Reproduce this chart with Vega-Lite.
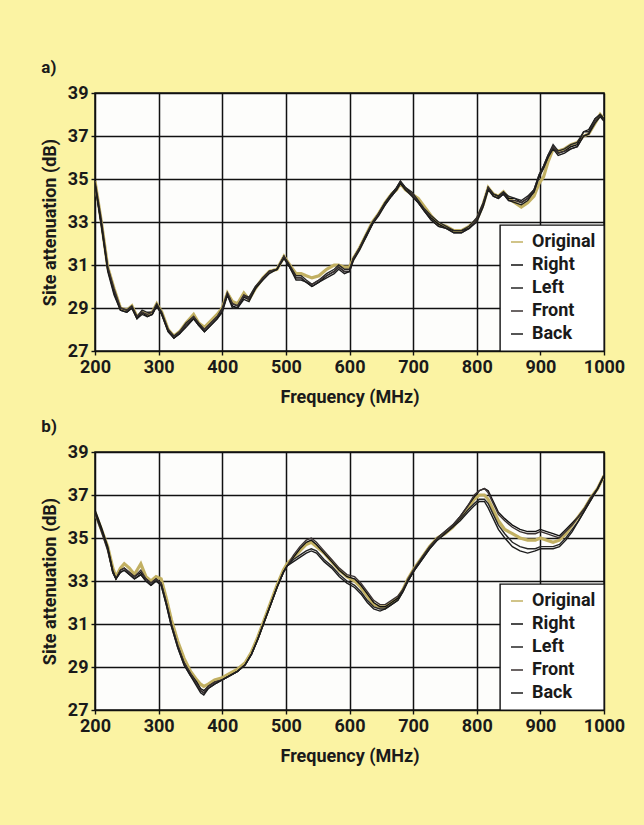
{
  "$schema": "https://vega.github.io/schema/vega-lite/v6.json",
  "background": "#fbf3a3",
  "padding": {"left": 40, "top": 58, "right": 39, "bottom": 60},
  "spacing": 10,
  "config": {
    "font": "Roboto, sans-serif",
    "view": {"stroke": "#111111", "strokeWidth": 1.5, "fill": "#fdfdfb"},
    "axis": {
      "gridColor": "#111111", "gridWidth": 1.5, "gridOpacity": 1,
      "domain": false, "tickColor": "#111111", "tickSize": 4, "tickWidth": 1.4,
      "labelFont": "Roboto, sans-serif", "labelOverlap": false, "labelFlush": false,
      "labelFontSize": 18, "labelFontWeight": "bold", "labelColor": "#1a1a1a", "labelPadding": 3,
      "titleFont": "Roboto, sans-serif",
      "titleFontSize": 18, "titleFontWeight": "bold", "titleColor": "#1a1a1a"
    },
    "legend": {
      "orient": "bottom-right", "offset": 0, "padding": 8, "fillColor": "#ffffff",
      "strokeColor": "#111111", "strokeWidth": 1.4, "cornerRadius": 0,
      "labelFont": "Roboto, sans-serif",
      "labelFontSize": 18, "labelFontWeight": "bold", "labelColor": "#1a1a1a",
      "symbolType": "stroke", "symbolSize": 144, "symbolStrokeWidth": 1.5, "labelOffset": 6, "rowPadding": 5
    },
    "title": {
      "font": "Roboto, sans-serif",
      "fontSize": 17, "fontWeight": "bold", "color": "#1a1a1a", "anchor": "start", "frame": "bounds", "offset": 7
    }
  },
  "datasets": {
    "a": [
      {"f":200,"Original":34.9,"Right":34.8,"Left":34.7,"Front":34.9,"Back":34.8},
      {"f":210,"Original":33.0,"Right":32.8,"Left":32.9,"Front":33.1,"Back":32.9},
      {"f":220,"Original":30.9,"Right":30.8,"Left":30.9,"Front":30.9,"Back":30.7},
      {"f":230,"Original":29.9,"Right":29.7,"Left":29.8,"Front":29.9,"Back":29.6},
      {"f":240,"Original":29.0,"Right":28.9,"Left":29.0,"Front":29.0,"Back":28.9},
      {"f":250,"Original":28.9,"Right":28.8,"Left":28.9,"Front":28.9,"Back":28.8},
      {"f":258,"Original":29.1,"Right":29.0,"Left":29.1,"Front":29.0,"Back":29.0},
      {"f":266,"Original":28.6,"Right":28.5,"Left":28.6,"Front":28.6,"Back":28.5},
      {"f":274,"Original":28.8,"Right":28.8,"Left":28.9,"Front":28.8,"Back":28.7},
      {"f":282,"Original":28.7,"Right":28.6,"Left":28.8,"Front":28.7,"Back":28.6},
      {"f":290,"Original":28.8,"Right":28.7,"Left":28.8,"Front":28.8,"Back":28.7},
      {"f":297,"Original":29.2,"Right":29.1,"Left":29.2,"Front":29.1,"Back":29.1},
      {"f":305,"Original":28.8,"Right":28.7,"Left":28.8,"Front":28.7,"Back":28.7},
      {"f":315,"Original":28.0,"Right":27.9,"Left":28.0,"Front":28.0,"Back":27.9},
      {"f":324,"Original":27.7,"Right":27.6,"Left":27.7,"Front":27.6,"Back":27.6},
      {"f":333,"Original":27.9,"Right":27.8,"Left":27.9,"Front":27.9,"Back":27.8},
      {"f":343,"Original":28.3,"Right":28.2,"Left":28.3,"Front":28.2,"Back":28.1},
      {"f":355,"Original":28.7,"Right":28.5,"Left":28.6,"Front":28.6,"Back":28.5},
      {"f":363,"Original":28.3,"Right":28.2,"Left":28.3,"Front":28.2,"Back":28.2},
      {"f":372,"Original":28.1,"Right":27.9,"Left":28.0,"Front":28.0,"Back":27.9},
      {"f":382,"Original":28.4,"Right":28.2,"Left":28.3,"Front":28.3,"Back":28.2},
      {"f":392,"Original":28.7,"Right":28.5,"Left":28.6,"Front":28.6,"Back":28.5},
      {"f":400,"Original":29.0,"Right":28.9,"Left":29.0,"Front":28.9,"Back":28.8},
      {"f":408,"Original":29.7,"Right":29.6,"Left":29.7,"Front":29.7,"Back":29.6},
      {"f":416,"Original":29.3,"Right":29.1,"Left":29.2,"Front":29.2,"Back":29.0},
      {"f":424,"Original":29.2,"Right":29.0,"Left":29.1,"Front":29.1,"Back":29.0},
      {"f":434,"Original":29.7,"Right":29.5,"Left":29.6,"Front":29.6,"Back":29.4},
      {"f":442,"Original":29.4,"Right":29.4,"Left":29.5,"Front":29.4,"Back":29.3},
      {"f":452,"Original":29.9,"Right":29.9,"Left":30.0,"Front":29.9,"Back":29.9},
      {"f":464,"Original":30.4,"Right":30.4,"Left":30.4,"Front":30.4,"Back":30.3},
      {"f":474,"Original":30.7,"Right":30.7,"Left":30.7,"Front":30.7,"Back":30.6},
      {"f":486,"Original":30.8,"Right":30.8,"Left":30.8,"Front":30.8,"Back":30.8},
      {"f":497,"Original":31.4,"Right":31.4,"Left":31.4,"Front":31.4,"Back":31.3},
      {"f":506,"Original":31.0,"Right":30.9,"Left":31.0,"Front":30.9,"Back":30.9},
      {"f":516,"Original":30.6,"Right":30.4,"Left":30.5,"Front":30.4,"Back":30.3},
      {"f":524,"Original":30.6,"Right":30.4,"Left":30.5,"Front":30.4,"Back":30.3},
      {"f":532,"Original":30.5,"Right":30.2,"Left":30.3,"Front":30.2,"Back":30.2},
      {"f":541,"Original":30.4,"Right":30.0,"Left":30.1,"Front":30.1,"Back":30.0},
      {"f":552,"Original":30.5,"Right":30.2,"Left":30.3,"Front":30.3,"Back":30.2},
      {"f":564,"Original":30.8,"Right":30.5,"Left":30.6,"Front":30.5,"Back":30.4},
      {"f":576,"Original":31.0,"Right":30.7,"Left":30.8,"Front":30.7,"Back":30.6},
      {"f":583,"Original":31.0,"Right":30.9,"Left":31.0,"Front":30.9,"Back":30.8},
      {"f":592,"Original":30.9,"Right":30.7,"Left":30.8,"Front":30.7,"Back":30.6},
      {"f":600,"Original":30.9,"Right":30.7,"Left":30.8,"Front":30.7,"Back":30.7},
      {"f":606,"Original":31.3,"Right":31.3,"Left":31.3,"Front":31.3,"Back":31.2},
      {"f":616,"Original":31.8,"Right":31.8,"Left":31.8,"Front":31.8,"Back":31.7},
      {"f":626,"Original":32.4,"Right":32.4,"Left":32.4,"Front":32.3,"Back":32.3},
      {"f":636,"Original":33.0,"Right":32.9,"Left":33.0,"Front":32.9,"Back":32.9},
      {"f":646,"Original":33.4,"Right":33.4,"Left":33.4,"Front":33.4,"Back":33.3},
      {"f":656,"Original":33.9,"Right":33.9,"Left":33.9,"Front":33.8,"Back":33.8},
      {"f":666,"Original":34.3,"Right":34.3,"Left":34.3,"Front":34.2,"Back":34.2},
      {"f":674,"Original":34.5,"Right":34.6,"Left":34.6,"Front":34.5,"Back":34.5},
      {"f":680,"Original":34.8,"Right":34.9,"Left":34.9,"Front":34.8,"Back":34.8},
      {"f":688,"Original":34.5,"Right":34.6,"Left":34.6,"Front":34.5,"Back":34.5},
      {"f":698,"Original":34.3,"Right":34.3,"Left":34.4,"Front":34.3,"Back":34.2},
      {"f":708,"Original":34.1,"Right":33.9,"Left":34.0,"Front":33.9,"Back":33.9},
      {"f":718,"Original":33.7,"Right":33.5,"Left":33.6,"Front":33.5,"Back":33.5},
      {"f":728,"Original":33.3,"Right":33.2,"Left":33.3,"Front":33.1,"Back":33.1},
      {"f":740,"Original":32.9,"Right":32.9,"Left":33.0,"Front":32.8,"Back":32.8},
      {"f":752,"Original":32.8,"Right":32.7,"Left":32.8,"Front":32.7,"Back":32.7},
      {"f":764,"Original":32.6,"Right":32.6,"Left":32.6,"Front":32.5,"Back":32.5},
      {"f":776,"Original":32.6,"Right":32.6,"Left":32.6,"Front":32.5,"Back":32.5},
      {"f":788,"Original":32.8,"Right":32.7,"Left":32.8,"Front":32.7,"Back":32.7},
      {"f":800,"Original":33.1,"Right":33.1,"Left":33.2,"Front":33.1,"Back":33.0},
      {"f":810,"Original":33.8,"Right":33.8,"Left":33.9,"Front":33.8,"Back":33.7},
      {"f":818,"Original":34.6,"Right":34.6,"Left":34.6,"Front":34.6,"Back":34.5},
      {"f":826,"Original":34.3,"Right":34.3,"Left":34.3,"Front":34.2,"Back":34.2},
      {"f":834,"Original":34.2,"Right":34.2,"Left":34.2,"Front":34.1,"Back":34.1},
      {"f":842,"Original":34.4,"Right":34.4,"Left":34.4,"Front":34.3,"Back":34.3},
      {"f":850,"Original":34.1,"Right":34.1,"Left":34.2,"Front":34.0,"Back":34.0},
      {"f":860,"Original":33.9,"Right":34.1,"Left":34.1,"Front":34.0,"Back":33.9},
      {"f":870,"Original":33.7,"Right":33.9,"Left":34.0,"Front":33.9,"Back":33.8},
      {"f":880,"Original":33.9,"Right":34.1,"Left":34.2,"Front":34.1,"Back":34.0},
      {"f":890,"Original":34.2,"Right":34.5,"Left":34.5,"Front":34.4,"Back":34.4},
      {"f":898,"Original":34.8,"Right":35.2,"Left":35.2,"Front":35.1,"Back":35.1},
      {"f":905,"Original":35.1,"Right":35.6,"Left":35.6,"Front":35.5,"Back":35.5},
      {"f":912,"Original":35.8,"Right":36.1,"Left":36.1,"Front":36.0,"Back":36.0},
      {"f":920,"Original":36.4,"Right":36.5,"Left":36.6,"Front":36.5,"Back":36.4},
      {"f":928,"Original":36.3,"Right":36.2,"Left":36.3,"Front":36.2,"Back":36.1},
      {"f":938,"Original":36.4,"Right":36.3,"Left":36.4,"Front":36.3,"Back":36.2},
      {"f":948,"Original":36.6,"Right":36.5,"Left":36.6,"Front":36.4,"Back":36.4},
      {"f":958,"Original":36.7,"Right":36.6,"Left":36.7,"Front":36.5,"Back":36.5},
      {"f":968,"Original":37.0,"Right":37.2,"Left":37.2,"Front":37.0,"Back":37.0},
      {"f":976,"Original":37.1,"Right":37.3,"Left":37.2,"Front":37.1,"Back":37.1},
      {"f":986,"Original":37.6,"Right":37.8,"Left":37.8,"Front":37.7,"Back":37.6},
      {"f":994,"Original":38.0,"Right":38.0,"Left":38.0,"Front":37.9,"Back":37.9},
      {"f":1000,"Original":37.8,"Right":37.8,"Left":37.8,"Front":37.7,"Back":37.7}
    ],
    "b": [
      {"f":200,"Original":36.2,"Right":36.3,"Left":36.2,"Front":36.1,"Back":36.2},
      {"f":210,"Original":35.4,"Right":35.5,"Left":35.4,"Front":35.3,"Back":35.4},
      {"f":220,"Original":34.6,"Right":34.6,"Left":34.5,"Front":34.4,"Back":34.5},
      {"f":228,"Original":33.6,"Right":33.5,"Left":33.4,"Front":33.4,"Back":33.4},
      {"f":233,"Original":33.2,"Right":33.1,"Left":33.1,"Front":33.1,"Back":33.1},
      {"f":240,"Original":33.6,"Right":33.5,"Left":33.4,"Front":33.5,"Back":33.4},
      {"f":246,"Original":33.8,"Right":33.6,"Left":33.5,"Front":33.6,"Back":33.5},
      {"f":254,"Original":33.6,"Right":33.4,"Left":33.3,"Front":33.4,"Back":33.3},
      {"f":262,"Original":33.3,"Right":33.2,"Left":33.1,"Front":33.2,"Back":33.1},
      {"f":272,"Original":33.8,"Right":33.4,"Left":33.3,"Front":33.5,"Back":33.3},
      {"f":280,"Original":33.2,"Right":33.1,"Left":33.0,"Front":33.1,"Back":33.0},
      {"f":288,"Original":33.0,"Right":32.9,"Left":32.8,"Front":32.9,"Back":32.8},
      {"f":296,"Original":33.2,"Right":33.1,"Left":33.0,"Front":33.1,"Back":33.0},
      {"f":304,"Original":33.1,"Right":32.9,"Left":32.8,"Front":32.9,"Back":32.8},
      {"f":312,"Original":32.2,"Right":32.0,"Left":31.9,"Front":32.0,"Back":31.9},
      {"f":320,"Original":31.2,"Right":31.0,"Left":30.9,"Front":31.0,"Back":30.9},
      {"f":330,"Original":30.2,"Right":30.0,"Left":29.9,"Front":30.0,"Back":29.9},
      {"f":340,"Original":29.4,"Right":29.2,"Left":29.1,"Front":29.2,"Back":29.1},
      {"f":350,"Original":28.8,"Right":28.7,"Left":28.6,"Front":28.7,"Back":28.6},
      {"f":360,"Original":28.4,"Right":28.3,"Left":28.2,"Front":28.2,"Back":28.1},
      {"f":366,"Original":28.2,"Right":28.0,"Left":27.9,"Front":27.9,"Back":27.8},
      {"f":371,"Original":28.1,"Right":27.9,"Left":27.8,"Front":27.8,"Back":27.7},
      {"f":378,"Original":28.2,"Right":28.1,"Left":28.0,"Front":28.1,"Back":28.0},
      {"f":388,"Original":28.4,"Right":28.3,"Left":28.2,"Front":28.3,"Back":28.2},
      {"f":400,"Original":28.5,"Right":28.4,"Left":28.4,"Front":28.4,"Back":28.4},
      {"f":412,"Original":28.7,"Right":28.6,"Left":28.6,"Front":28.6,"Back":28.6},
      {"f":424,"Original":28.9,"Right":28.8,"Left":28.8,"Front":28.8,"Back":28.8},
      {"f":436,"Original":29.2,"Right":29.1,"Left":29.1,"Front":29.1,"Back":29.1},
      {"f":446,"Original":29.7,"Right":29.6,"Left":29.6,"Front":29.6,"Back":29.6},
      {"f":456,"Original":30.4,"Right":30.3,"Left":30.3,"Front":30.3,"Back":30.3},
      {"f":466,"Original":31.2,"Right":31.1,"Left":31.1,"Front":31.1,"Back":31.1},
      {"f":476,"Original":32.0,"Right":31.9,"Left":31.9,"Front":31.9,"Back":31.9},
      {"f":486,"Original":32.8,"Right":32.7,"Left":32.7,"Front":32.7,"Back":32.7},
      {"f":496,"Original":33.5,"Right":33.4,"Left":33.4,"Front":33.4,"Back":33.4},
      {"f":502,"Original":33.8,"Right":33.7,"Left":33.7,"Front":33.7,"Back":33.7},
      {"f":512,"Original":34.1,"Right":34.1,"Left":34.0,"Front":34.2,"Back":33.9},
      {"f":522,"Original":34.4,"Right":34.5,"Left":34.2,"Front":34.6,"Back":34.1},
      {"f":532,"Original":34.7,"Right":34.8,"Left":34.4,"Front":34.9,"Back":34.3},
      {"f":540,"Original":34.8,"Right":34.9,"Left":34.5,"Front":35.0,"Back":34.4},
      {"f":548,"Original":34.6,"Right":34.7,"Left":34.4,"Front":34.8,"Back":34.3},
      {"f":560,"Original":34.3,"Right":34.3,"Left":34.0,"Front":34.4,"Back":33.9},
      {"f":572,"Original":33.9,"Right":33.9,"Left":33.7,"Front":34.0,"Back":33.6},
      {"f":584,"Original":33.5,"Right":33.5,"Left":33.3,"Front":33.6,"Back":33.2},
      {"f":596,"Original":33.2,"Right":33.2,"Left":33.0,"Front":33.3,"Back":32.9},
      {"f":608,"Original":33.0,"Right":33.1,"Left":32.8,"Front":33.2,"Back":32.7},
      {"f":618,"Original":32.7,"Right":32.8,"Left":32.5,"Front":32.9,"Back":32.4},
      {"f":628,"Original":32.3,"Right":32.4,"Left":32.1,"Front":32.5,"Back":32.0},
      {"f":638,"Original":31.9,"Right":32.0,"Left":31.8,"Front":32.1,"Back":31.7},
      {"f":648,"Original":31.8,"Right":31.8,"Left":31.7,"Front":31.9,"Back":31.6},
      {"f":656,"Original":31.8,"Right":31.8,"Left":31.7,"Front":31.9,"Back":31.7},
      {"f":666,"Original":32.0,"Right":32.0,"Left":31.9,"Front":32.1,"Back":31.9},
      {"f":676,"Original":32.2,"Right":32.2,"Left":32.1,"Front":32.3,"Back":32.1},
      {"f":684,"Original":32.6,"Right":32.6,"Left":32.5,"Front":32.6,"Back":32.5},
      {"f":692,"Original":33.1,"Right":33.0,"Left":33.0,"Front":33.1,"Back":33.0},
      {"f":702,"Original":33.6,"Right":33.5,"Left":33.5,"Front":33.6,"Back":33.5},
      {"f":714,"Original":34.1,"Right":34.1,"Left":34.0,"Front":34.1,"Back":34.0},
      {"f":726,"Original":34.6,"Right":34.6,"Left":34.5,"Front":34.6,"Back":34.5},
      {"f":738,"Original":35.0,"Right":35.0,"Left":34.9,"Front":35.0,"Back":34.9},
      {"f":750,"Original":35.2,"Right":35.3,"Left":35.2,"Front":35.3,"Back":35.2},
      {"f":762,"Original":35.5,"Right":35.6,"Left":35.5,"Front":35.6,"Back":35.5},
      {"f":774,"Original":35.9,"Right":36.0,"Left":35.9,"Front":36.0,"Back":35.8},
      {"f":786,"Original":36.4,"Right":36.5,"Left":36.3,"Front":36.5,"Back":36.2},
      {"f":796,"Original":36.8,"Right":36.9,"Left":36.6,"Front":37.0,"Back":36.5},
      {"f":804,"Original":37.0,"Right":37.2,"Left":36.8,"Front":37.2,"Back":36.7},
      {"f":812,"Original":37.0,"Right":37.3,"Left":36.8,"Front":37.3,"Back":36.7},
      {"f":818,"Original":36.8,"Right":37.2,"Left":36.6,"Front":37.1,"Back":36.4},
      {"f":826,"Original":36.3,"Right":36.7,"Left":36.1,"Front":36.6,"Back":35.9},
      {"f":834,"Original":35.8,"Right":36.2,"Left":35.6,"Front":36.1,"Back":35.4},
      {"f":844,"Original":35.4,"Right":35.9,"Left":35.2,"Front":35.8,"Back":35.0},
      {"f":856,"Original":35.2,"Right":35.6,"Left":34.8,"Front":35.5,"Back":34.6},
      {"f":868,"Original":35.0,"Right":35.4,"Left":34.6,"Front":35.3,"Back":34.4},
      {"f":880,"Original":34.9,"Right":35.3,"Left":34.5,"Front":35.2,"Back":34.3},
      {"f":892,"Original":34.9,"Right":35.3,"Left":34.5,"Front":35.2,"Back":34.4},
      {"f":900,"Original":35.0,"Right":35.4,"Left":34.6,"Front":35.3,"Back":34.5},
      {"f":910,"Original":34.9,"Right":35.3,"Left":34.6,"Front":35.2,"Back":34.5},
      {"f":920,"Original":34.8,"Right":35.2,"Left":34.6,"Front":35.1,"Back":34.5},
      {"f":930,"Original":34.9,"Right":35.1,"Left":34.7,"Front":35.0,"Back":34.6},
      {"f":940,"Original":35.2,"Right":35.4,"Left":35.0,"Front":35.3,"Back":34.9},
      {"f":950,"Original":35.6,"Right":35.7,"Left":35.4,"Front":35.6,"Back":35.3},
      {"f":960,"Original":36.0,"Right":36.0,"Left":35.8,"Front":36.0,"Back":35.8},
      {"f":970,"Original":36.4,"Right":36.4,"Left":36.3,"Front":36.4,"Back":36.3},
      {"f":980,"Original":36.9,"Right":36.9,"Left":36.8,"Front":36.9,"Back":36.8},
      {"f":990,"Original":37.3,"Right":37.3,"Left":37.3,"Front":37.3,"Back":37.3},
      {"f":1000,"Original":37.9,"Right":37.9,"Left":37.9,"Front":37.9,"Back":37.9}
    ]
  },
  "resolve": {"scale": {"color": "independent"}, "legend": {"color": "independent"}},
  "vconcat": [
    {
      "width": 509, "height": 258,
      "title": {"text": "a)"},
      "data": {"name": "a"},
      "transform": [{"fold": ["Original", "Right", "Left", "Front", "Back"], "as": ["series", "value"]}],
      "encoding": {
        "x": {"field": "f", "type": "quantitative", "scale": {"domain": [200, 1000], "nice": false}, "axis": {"values": [200,300,400,500,600,700,800,900,1000], "format": "d", "title": "Frequency (MHz)", "titlePadding": 12}},
        "y": {"field": "value", "type": "quantitative", "scale": {"domain": [27, 39], "nice": false, "zero": false}, "axis": {"values": [27,29,31,33,35,37,39], "title": "Site attenuation (dB)", "titlePadding": 8}},
        "color": {"field": "series", "type": "nominal", "scale": {"domain": ["Original", "Right", "Left", "Front", "Back"], "range": ["#c2b062", "#111111", "#262626", "#3a3232", "#1c1c1c"]}, "legend": {"title": null}}
      },
      "layer": [
        {"transform": [{"filter": "datum.series === 'Original'"}], "mark": {"type": "line", "strokeWidth": 3.2, "clip": true}},
        {"transform": [{"filter": "datum.series !== 'Original'"}], "mark": {"type": "line", "strokeWidth": 1.4, "clip": true}}
      ]
    },
    {
      "width": 509, "height": 258,
      "title": {"text": "b)"},
      "data": {"name": "b"},
      "transform": [{"fold": ["Original", "Right", "Left", "Front", "Back"], "as": ["series", "value"]}],
      "encoding": {
        "x": {"field": "f", "type": "quantitative", "scale": {"domain": [200, 1000], "nice": false}, "axis": {"values": [200,300,400,500,600,700,800,900,1000], "format": "d", "title": "Frequency (MHz)", "titlePadding": 12}},
        "y": {"field": "value", "type": "quantitative", "scale": {"domain": [27, 39], "nice": false, "zero": false}, "axis": {"values": [27,29,31,33,35,37,39], "title": "Site attenuation (dB)", "titlePadding": 8}},
        "color": {"field": "series", "type": "nominal", "scale": {"domain": ["Original", "Right", "Left", "Front", "Back"], "range": ["#c2b062", "#111111", "#262626", "#3a3232", "#1c1c1c"]}, "legend": {"title": null}}
      },
      "layer": [
        {"transform": [{"filter": "datum.series === 'Original'"}], "mark": {"type": "line", "strokeWidth": 3.2, "clip": true}},
        {"transform": [{"filter": "datum.series !== 'Original'"}], "mark": {"type": "line", "strokeWidth": 1.4, "clip": true}}
      ]
    }
  ]
}
